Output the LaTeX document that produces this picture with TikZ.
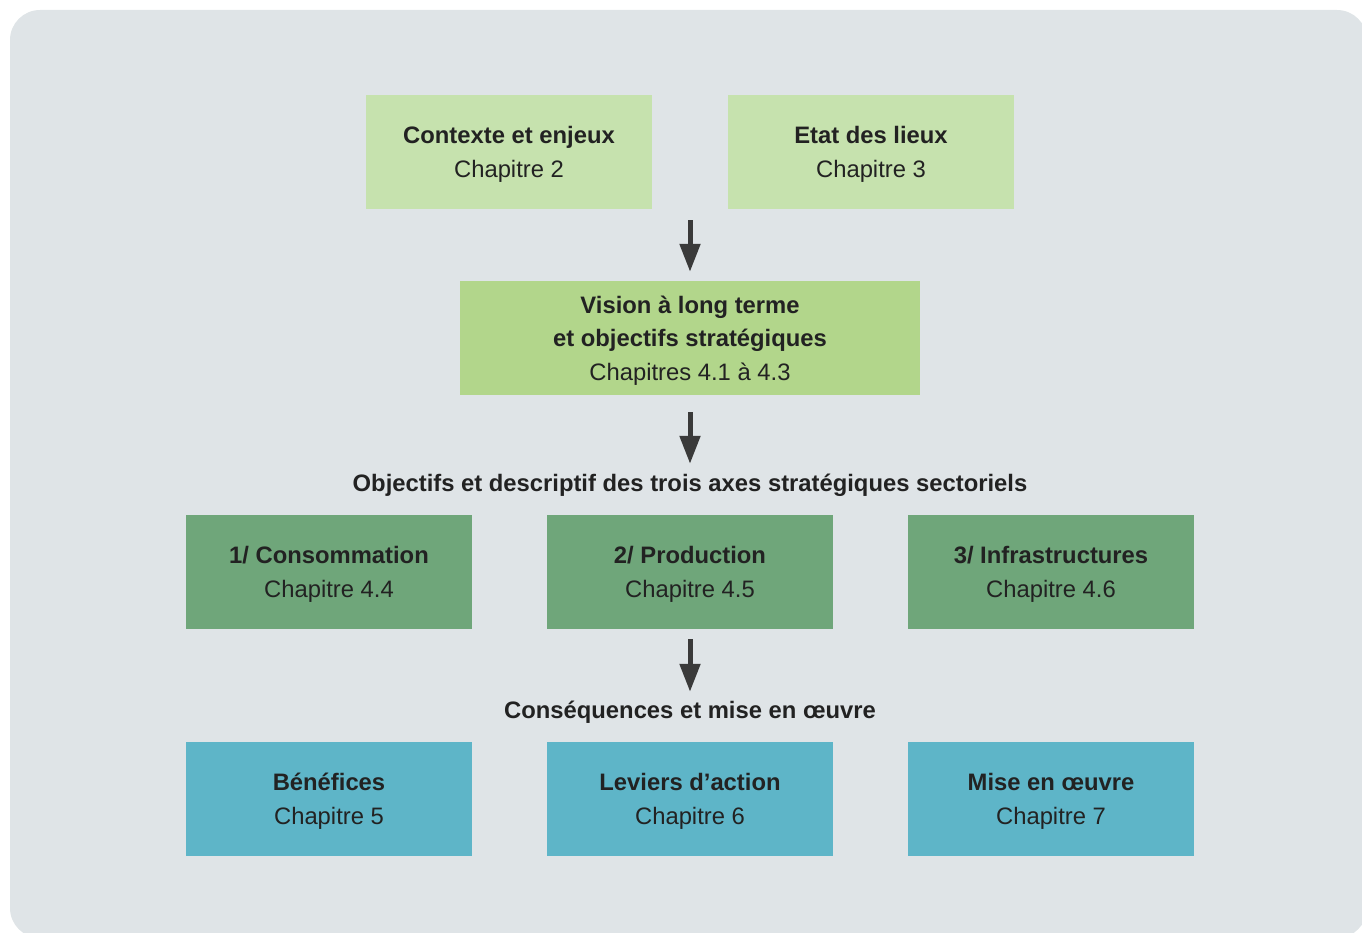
\documentclass[tikz,border=0pt]{standalone}
\usepackage{fontspec}
\setmainfont{Liberation Sans}
\usetikzlibrary{arrows.meta,calc}
\definecolor{panelgrey}{HTML}{DFE4E7}
\definecolor{chaplight}{HTML}{C6E2AE}
\definecolor{chapvision}{HTML}{B2D68B}
\definecolor{chapaxis}{HTML}{6FA67A}
\definecolor{chapaction}{HTML}{5EB5C8}
\definecolor{inkgrey}{HTML}{222222}
\definecolor{arrowgrey}{HTML}{3A3A3A}
\newcommand{\chaptop}{\rule{0pt}{22pt}}

\begin{document}
\begin{tikzpicture}[x=1pt,y=-1pt,
    chapbox/.style={minimum width=286pt,minimum height=114pt,inner sep=0pt,align=center,
      text=inkgrey,font=\fontsize{23.8}{33.5}\selectfont},
    steplabel/.style={anchor=base,inner sep=0pt,text height=17pt,text depth=5pt,
      text=inkgrey,font=\fontsize{23.8}{28}\selectfont\bfseries},
    flow/.style={-{Triangle[length=28pt,width=20pt]},line width=5pt,arrowgrey}]
    \clip (0,0) rectangle (1362,933);
    \fill[panelgrey,rounded corners=30pt] (10,10) rectangle (1367,938);
    \node[chapbox,fill=chaplight] (ctx) at (509,152) {\chaptop\textbf{Contexte et enjeux}\\Chapitre 2};
    \node[chapbox,fill=chaplight] (etat) at (871,152) {\chaptop\textbf{Etat des lieux}\\Chapitre 3};
    \node[chapbox,fill=chapvision,minimum width=460pt] (vision) at (690,338)
      {\chaptop\textbf{Vision à long terme}\\\textbf{et objectifs stratégiques}\\Chapitres 4.1 à 4.3};
    \node[steplabel] (axes) at (690,491) {Objectifs et descriptif des trois axes stratégiques sectoriels};
    \node[chapbox,fill=chapaxis] (conso) at (329,572) {\chaptop\textbf{1/ Consommation}\\Chapitre 4.4};
    \node[chapbox,fill=chapaxis] (prod) at (690,572) {\chaptop\textbf{2/ Production}\\Chapitre 4.5};
    \node[chapbox,fill=chapaxis] (infra) at (1051,572) {\chaptop\textbf{3/ Infrastructures}\\Chapitre 4.6};
    \node[steplabel] (cons) at (690,718) {Conséquences et mise en œuvre};
    \node[chapbox,fill=chapaction] (benef) at (329,799) {\chaptop\textbf{Bénéfices}\\Chapitre 5};
    \node[chapbox,fill=chapaction] (levier) at (690,799) {\chaptop\textbf{Leviers d’action}\\Chapitre 6};
    \node[chapbox,fill=chapaction] (mise) at (1051,799) {\chaptop\textbf{Mise en œuvre}\\Chapitre 7};
    \draw[flow,shorten <=11pt,shorten >=9pt] ($(ctx.south)!0.5!(etat.south)$) -- (vision.north);
    \draw[flow,shorten <=17pt,shorten >=10pt] (vision.south) -- (axes.north);
    \draw[flow,shorten <=10pt,shorten >=9pt] (prod.south) -- (cons.north);
\end{tikzpicture}
\end{document}
